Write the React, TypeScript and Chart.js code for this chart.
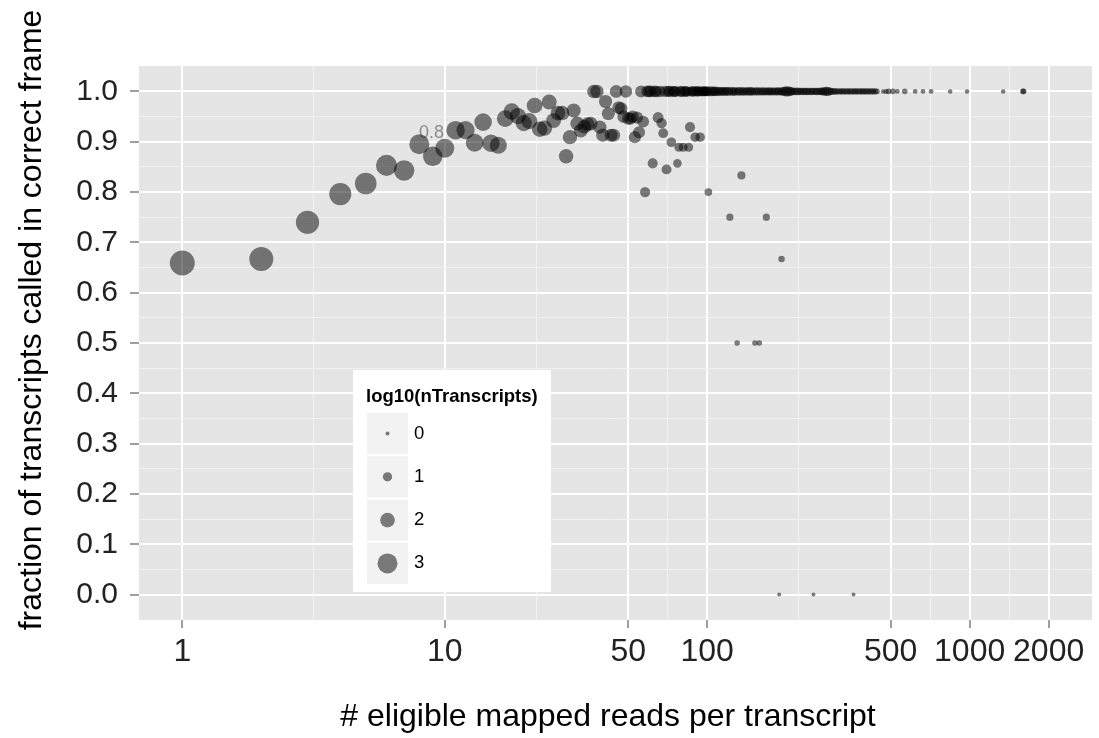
import React, { useEffect, useRef } from "react";
import { Chart, registerables } from "chart.js";

Chart.register(...registerables);

// ---- data: per read-count fraction of transcripts in correct frame, and log10(nTranscripts)
const reads = [
  1, 2, 3, 4, 5, 6, 7, 8, 9, 10,
  11, 12, 13, 14, 15, 16, 17, 18, 19, 20,
  21, 22, 23, 24, 25, 26, 27, 28, 29, 30,
  31, 32, 33, 34, 35, 36, 37, 38, 39, 40,
  41, 42, 43, 44, 45, 46, 47, 48, 49, 50,
  51, 52, 53, 54, 55, 56, 57, 58, 62, 65,
  67, 68, 70, 73, 77, 78, 81, 85, 86, 90,
  94, 101, 122, 130, 135, 152, 158, 168, 188, 192,
  254, 361,
];
const fraction = [
  0.659, 0.667, 0.740, 0.796, 0.817, 0.853, 0.843, 0.895, 0.871, 0.887,
  0.923, 0.923, 0.898, 0.939, 0.897, 0.893, 0.946, 0.960, 0.951, 0.937,
  0.941, 0.972, 0.925, 0.927, 0.979, 0.942, 0.957, 0.957, 0.871, 0.909,
  0.962, 0.936, 0.922, 0.930, 0.935, 0.936, 1.0, 1.0, 0.929, 0.913,
  0.980, 0.956, 0.913, 0.913, 1.0, 0.968, 0.966, 0.950, 1.0, 0.946,
  0.946, 0.950, 0.909, 0.948, 0.919, 1.0, 0.940, 0.800, 0.857, 0.948,
  0.937, 0.917, 0.845, 0.899, 0.857, 0.889, 0.889, 0.889, 0.929, 0.909,
  0.909, 0.800, 0.750, 0.500, 0.833, 0.500, 0.500, 0.750, 0.0, 0.667,
  0.0, 0.0,
];
const log10N = [
  3.93, 3.75, 3.6, 3.4, 3.3, 3.2, 3.1, 3.0, 2.9, 2.8,
  2.72, 2.65, 2.6, 2.55, 2.5, 2.45, 2.4, 2.35, 2.3, 2.28,
  2.25, 2.2, 2.15, 2.1, 2.08, 2.05, 2.0, 1.98, 1.95, 1.93,
  1.9, 1.88, 1.86, 1.84, 1.82, 1.8, 1.78, 1.77, 1.75, 1.73,
  1.72, 1.7, 1.68, 1.67, 1.65, 1.64, 1.62, 1.6, 1.6, 1.58,
  1.56, 1.55, 1.54, 1.52, 1.5, 1.5, 1.48, 1.18, 1.15, 1.3,
  1.2, 1.1, 1.11, 1.05, 0.85, 0.95, 0.95, 0.95, 1.15, 1.04,
  1.04, 0.7, 0.6, 0.3, 0.78, 0.3, 0.3, 0.6, 0.0, 0.48,
  0.0, 0.0,
];

// read counts where every transcript was called in the correct frame (fraction = 1.0)
const bandReads = [
  59, 60, 61, 63, 64, 66, 69, 71, 72, 74, 75, 76, 79, 80, 82, 83, 84, 87, 88, 89,
  91, 92, 93, 95, 96, 97, 98, 99, 100,
  102, 104, 106, 107, 109, 111, 113, 115, 117, 119, 121, 124, 126, 128, 131, 133,
  136, 138, 141, 143, 146, 148, 151, 154, 157, 160, 163, 166, 169, 172, 175, 178,
  181, 185, 187, 191, 194, 198, 201, 205, 208, 212, 216, 220, 224, 228, 232, 236,
  240, 244, 249, 253, 258, 262, 267, 272, 276, 281, 286, 291, 296, 302, 307, 312,
  318, 324, 329, 335, 341, 347, 353, 360, 366, 372, 379, 386, 392, 399, 406, 413,
  421, 428, 436, 443,
  468, 480, 491, 510, 530, 566, 620, 664, 713, 843, 977, 1342, 1596, 1606,
];
const bandLog10N = [
  1.45, 1.45, 1.42, 1.42, 1.4, 1.4, 1.38, 1.35, 1.35, 1.32, 1.3, 1.3, 1.28, 1.3, 1.25, 1.22, 1.2, 1.2, 1.18, 1.2,
  1.15, 1.15, 1.12, 1.1, 1.1, 1.08, 1.1, 1.05, 1.1,
  1.1, 1.05, 1.05, 1.0, 1.0, 0.95, 0.95, 0.95, 0.9, 0.95, 0.9, 0.9, 0.85, 0.85, 0.8, 0.9,
  0.8, 0.85, 0.8, 0.8, 0.9, 0.8, 0.75, 0.8, 0.8, 0.75, 0.8, 0.75, 0.7, 0.8, 0.75, 0.7,
  0.75, 0.8, 0.7, 0.75, 0.9, 1.05, 1.2, 1.1, 0.9, 0.7, 0.65, 0.7, 0.65, 0.6, 0.65, 0.6,
  0.65, 0.6, 0.65, 0.6, 0.6, 0.65, 0.6, 0.7, 0.75, 0.9, 1.0, 0.85, 0.6, 0.5, 0.45, 0.45,
  0.45, 0.4, 0.45, 0.4, 0.45, 0.4, 0.45, 0.4, 0.45, 0.4, 0.45, 0.4, 0.45, 0.4, 0.45, 0.4,
  0.45, 0.4, 0.4, 0.35,
  0.1, 0.2, 0.3, 0.3, 0.15, 0.3, 0.15, 0.15, 0.15, 0.1, 0.1, 0.1, 0.3, 0.3,
];

// ---- axes
const xMajorTicks = [1, 10, 50, 100, 500, 1000, 2000];
const xTickLabels = ["1", "10", "50", "100", "500", "1000", "2000"];
const xMinorTicks = [3.162, 22.36, 70.71, 223.6, 707.1, 1414];
const yMajorTicks = [0, 0.1, 0.2, 0.3, 0.4, 0.5, 0.6, 0.7, 0.8, 0.9, 1.0];
const yTickLabels = ["0.0", "0.1", "0.2", "0.3", "0.4", "0.5", "0.6", "0.7", "0.8", "0.9", "1.0"];
const yMinorTicks = [0.05, 0.15, 0.25, 0.35, 0.45, 0.55, 0.65, 0.75, 0.85, 0.95];

// ---- legend & annotation
const legendValues = [0, 1, 2, 3];
const legendLabels = ["0", "1", "2", "3"];
const legendTitle = "log10(nTranscripts)";
const noteX = [8.9];
const noteY = [0.917];
const noteText = ["0.8"];

const xTitle = "# eligible mapped reads per transcript";
const yTitle = "fraction of transcripts called in correct frame";

const FONT = "'Liberation Sans', Arial, Helvetica, sans-serif";
const POINT_COLOR = "rgba(0,0,0,0.5)";
const radiusFor = (v: number) => 2 + (v * 8) / 3;

export default function App() {
  const ref = useRef<HTMLCanvasElement | null>(null);

  useEffect(() => {
    document.body.style.margin = "0";
    const canvas = ref.current;
    if (!canvas) return;

    const points = reads.map((r, i) => ({ x: r, y: fraction[i], v: log10N[i] }));
    const band = bandReads.map((r, i) => ({ x: r, y: 1.0, v: bandLog10N[i] }));

    const radius = (c: any) => radiusFor(c.raw ? c.raw.v : 0);

    const bgPlugin = {
      id: "panelBg",
      beforeDraw(chart: any) {
        const { ctx, chartArea: a } = chart;
        ctx.save();
        ctx.fillStyle = "#FFFFFF";
        ctx.fillRect(0, 0, chart.width, chart.height);
        ctx.fillStyle = "#E5E5E5";
        ctx.fillRect(a.left, a.top, a.right - a.left, a.bottom - a.top);
        ctx.restore();
      },
    };

    const notePlugin = {
      id: "note",
      beforeDatasetsDraw(chart: any) {
        const { ctx, scales } = chart;
        ctx.save();
        ctx.font = `18px ${FONT}`;
        ctx.fillStyle = "rgba(0,0,0,0.4)";
        ctx.textAlign = "center";
        ctx.textBaseline = "middle";
        noteText.forEach((t, i) => {
          ctx.fillText(t, scales.x.getPixelForValue(noteX[i]), scales.y.getPixelForValue(noteY[i]));
        });
        ctx.restore();
      },
    };

    const legendPlugin = {
      id: "sizeLegend",
      afterDatasetsDraw(chart: any) {
        const { ctx, chartArea: a } = chart;
        const bx = a.left + 214;
        const by = a.top + 304;
        const bw = 198;
        const bh = 222;
        ctx.save();
        ctx.fillStyle = "#FFFFFF";
        ctx.fillRect(bx, by, bw, bh);
        ctx.fillStyle = "#000000";
        ctx.font = `bold 18.5px ${FONT}`;
        ctx.textAlign = "left";
        ctx.textBaseline = "alphabetic";
        ctx.fillText(legendTitle, bx + 13, by + 31.5);
        legendValues.forEach((v, i) => {
          const ks = 41;
          const kx = bx + 14;
          const ky = by + 43 + i * 43.3;
          ctx.fillStyle = "#F2F2F2";
          ctx.fillRect(kx, ky, ks, ks);
          ctx.beginPath();
          ctx.arc(kx + ks / 2, ky + ks / 2, radiusFor(v), 0, Math.PI * 2);
          ctx.fillStyle = POINT_COLOR;
          ctx.fill();
          ctx.fillStyle = "#000000";
          ctx.font = `18.5px ${FONT}`;
          ctx.textBaseline = "middle";
          ctx.fillText(legendLabels[i], bx + 61, ky + ks / 2);
        });
        ctx.restore();
      },
    };

    const titlePlugin = {
      id: "axisTitles",
      afterDraw(chart: any) {
        const { ctx } = chart;
        ctx.save();
        ctx.fillStyle = "#000000";
        ctx.font = `32px ${FONT}`;
        ctx.textAlign = "center";
        ctx.textBaseline = "alphabetic";
        ctx.fillText(xTitle, 608, 726);
        ctx.translate(41, 320);
        ctx.rotate(-Math.PI / 2);
        ctx.fillText(yTitle, 0, 0);
        ctx.restore();
      },
    };

    const gridColor = (c: any) => (c.tick && c.tick.isMinor ? "#F2F2F2" : "#FFFFFF");
    const gridWidth = (c: any) => (c.tick && c.tick.isMinor ? 1 : 2);
    const tickColor = (c: any) => (c.tick && c.tick.isMinor ? "rgba(0,0,0,0)" : "#7F7F7F");

    const chart = new Chart(canvas, {
      type: "scatter",
      data: {
        datasets: [
          {
            data: points as any,
            backgroundColor: POINT_COLOR,
            borderWidth: 0,
            pointRadius: radius,
            pointHoverRadius: radius,
          },
          {
            data: band as any,
            backgroundColor: POINT_COLOR,
            borderWidth: 0,
            pointRadius: radius,
            pointHoverRadius: radius,
          },
        ],
      },
      options: {
        animation: false,
        responsive: true,
        maintainAspectRatio: false,
        events: [],
        layout: { autoPadding: false, padding: { top: 66, right: 7, left: 0, bottom: 0 } },
        plugins: { legend: { display: false }, tooltip: { enabled: false } },
        scales: {
          x: {
            type: "logarithmic",
            min: 0.684,
            max: 2925,
            afterBuildTicks: (s: any) => {
              s.ticks = [
                ...xMinorTicks.map((v) => ({ value: v, isMinor: true })),
                ...xMajorTicks.map((v) => ({ value: v, isMinor: false })),
              ].sort((a, b) => a.value - b.value);
            },
            afterFit: (s: any) => {
              s.height = 118;
              s.paddingLeft = 0;
              s.paddingRight = 0;
            },
            grid: {
              color: gridColor,
              lineWidth: gridWidth,
              tickColor: tickColor,
              tickLength: 8,
              tickWidth: 1.5,
              drawTicks: true,
            },
            border: { display: false },
            ticks: {
              autoSkip: false,
              maxRotation: 0,
              minRotation: 0,
              padding: 5,
              color: "#222222",
              font: { family: FONT, size: 32 },
              callback: (value: any) => {
                const idx = xMajorTicks.indexOf(Number(value));
                return idx >= 0 ? xTickLabels[idx] : "";
              },
            },
          },
          y: {
            type: "linear",
            min: -0.0505,
            max: 1.0505,
            afterBuildTicks: (s: any) => {
              s.ticks = [
                ...yMinorTicks.map((v) => ({ value: v, isMinor: true })),
                ...yMajorTicks.map((v) => ({ value: v, isMinor: false })),
              ].sort((a, b) => a.value - b.value);
            },
            afterFit: (s: any) => {
              s.width = 139;
              s.paddingTop = 0;
              s.paddingBottom = 0;
            },
            grid: {
              color: gridColor,
              lineWidth: gridWidth,
              tickColor: tickColor,
              tickLength: 9,
              tickWidth: 1.5,
              drawTicks: true,
            },
            border: { display: false },
            ticks: {
              autoSkip: false,
              padding: 12,
              color: "#222222",
              font: { family: FONT, size: 30 },
              callback: (value: any) => {
                const idx = yMajorTicks.findIndex((t) => Math.abs(t - Number(value)) < 1e-9);
                return idx >= 0 ? yTickLabels[idx] : "";
              },
            },
          },
        },
      } as any,
      plugins: [bgPlugin, notePlugin, legendPlugin, titlePlugin],
    });

    return () => {
      chart.destroy();
    };
  }, []);

  return (
    <div style={{ position: "fixed", left: 0, top: 0, width: 1099, height: 738, background: "#fff" }}>
      <canvas ref={ref} />
    </div>
  );
}
